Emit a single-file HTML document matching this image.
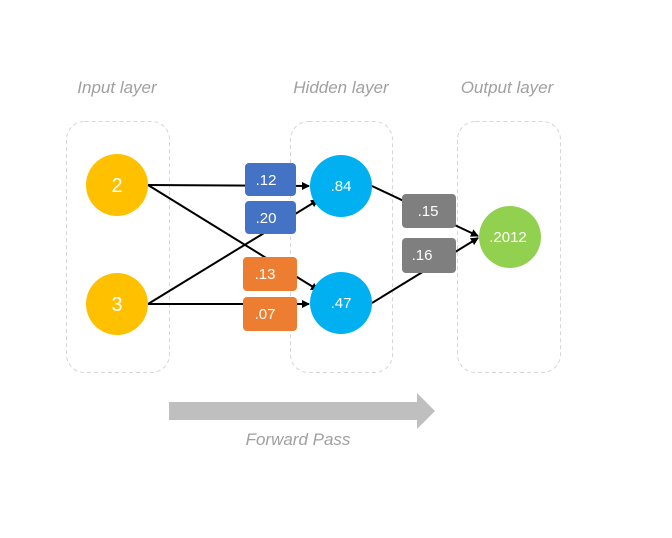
<!DOCTYPE html>
<html><head><meta charset="utf-8"><style>
html,body{margin:0;padding:0;background:#fff;}
svg{display:block;}
.h{font-family:"Liberation Sans",sans-serif;font-style:italic;font-size:17px;fill:#a0a0a0;}
.w{font-family:"Liberation Sans",sans-serif;font-size:15px;fill:#fff;}
</style></head><body>
<svg width="672" height="538" viewBox="0 0 672 538" xmlns="http://www.w3.org/2000/svg">
<defs><marker id="a" markerWidth="8" markerHeight="8" refX="7" refY="4" orient="auto" markerUnits="userSpaceOnUse"><path d="M0,0 L8,4 L0,8 Z" fill="#000"/></marker></defs>
<text class="h" x="117" y="93" text-anchor="middle">Input layer</text>
<text class="h" x="341" y="93" text-anchor="middle">Hidden layer</text>
<text class="h" x="507" y="93" text-anchor="middle">Output layer</text>
<g fill="none" stroke="#d6d6d6" stroke-dasharray="4,3" stroke-width="1">
<rect x="66.5" y="121.5" width="103" height="251" rx="18"/>
<rect x="290.5" y="121.5" width="102" height="251" rx="18"/>
<rect x="457.5" y="121.5" width="103" height="251" rx="18"/>
</g>
<g stroke="#000" stroke-width="2" fill="none" marker-end="url(#a)">
<line x1="148" y1="185" x2="309" y2="186"/>
<line x1="148" y1="185" x2="318" y2="290"/>
<line x1="148" y1="304" x2="318" y2="200"/>
<line x1="148" y1="304" x2="309" y2="304"/>
<line x1="372" y1="186" x2="478" y2="236"/>
<line x1="372" y1="303" x2="478" y2="238"/>
</g>
<circle cx="117" cy="185" r="31" fill="#ffc000"/>
<circle cx="117" cy="304" r="31" fill="#ffc000"/>
<circle cx="341" cy="186" r="31" fill="#00b0f0"/>
<circle cx="341" cy="303" r="31" fill="#00b0f0"/>
<circle cx="510" cy="237" r="31" fill="#92d050"/>
<text x="117" y="192" text-anchor="middle" font-family="Liberation Sans,sans-serif" font-size="20" fill="#fff">2</text>
<text x="117" y="311" text-anchor="middle" font-family="Liberation Sans,sans-serif" font-size="20" fill="#fff">3</text>
<text class="w" x="341" y="191" text-anchor="middle">.84</text>
<text class="w" x="341" y="308" text-anchor="middle">.47</text>
<text class="w" x="508" y="242" text-anchor="middle">.2012</text>
<rect x="245" y="163" width="51" height="33" rx="4" fill="#4472c4"/>
<rect x="245" y="201" width="51" height="33" rx="4" fill="#4472c4"/>
<rect x="243" y="257" width="54" height="34" rx="4" fill="#ed7d31"/>
<rect x="243" y="297" width="54" height="34" rx="4" fill="#ed7d31"/>
<rect x="402" y="194" width="54" height="34" rx="4" fill="#7f7f7f"/>
<rect x="402" y="238" width="54" height="35" rx="4" fill="#7f7f7f"/>
<text class="w" x="266" y="185" text-anchor="middle">.12</text>
<text class="w" x="266" y="223" text-anchor="middle">.20</text>
<text class="w" x="265" y="279" text-anchor="middle">.13</text>
<text class="w" x="265" y="319" text-anchor="middle">.07</text>
<text class="w" x="428" y="216" text-anchor="middle">.15</text>
<text class="w" x="422" y="260" text-anchor="middle">.16</text>
<path d="M169,402 H417 V393 L435,411 L417,429 V420 H169 Z" fill="#bfbfbf"/>
<text class="h" x="298" y="445" text-anchor="middle">Forward Pass</text>
</svg>
</body></html>
